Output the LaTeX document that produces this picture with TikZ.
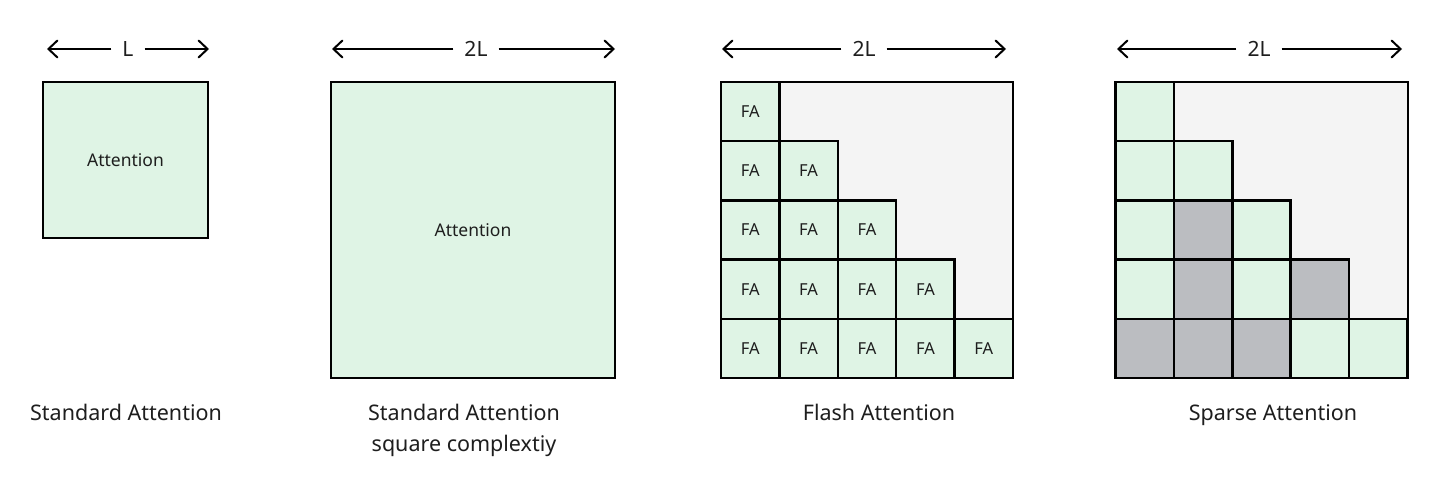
\documentclass[tikz,border=0pt]{standalone}
\usepackage{fontspec}
\setmainfont{Noto Sans}
\usetikzlibrary{arrows.meta}
\definecolor{attgreen}{HTML}{DFF4E5}
\definecolor{skipgray}{HTML}{BBBDC1}
\definecolor{bggray}{HTML}{F4F4F4}
\definecolor{ink}{HTML}{1E1E1E}
\begin{document}
\begin{tikzpicture}[x=1pt,y=-1pt,
  bigbox/.style={draw=black,line width=2pt,fill=attgreen,inner sep=0pt,outer sep=0pt,
    text=ink,font=\fontsize{17.5}{20}\selectfont},
  maskbox/.style={draw=black,line width=2pt,fill=bggray,inner sep=0pt,outer sep=0pt,
    minimum width=292pt,minimum height=296pt},
  cell/.style={draw=black,line width=2.5pt,fill=attgreen,inner sep=0pt,outer sep=0pt,
    minimum width=58.4pt,minimum height=59.2pt,text=ink,font=\fontsize{16.5}{19}\selectfont},
  skipcell/.style={cell,fill=skipgray},
  dimlabel/.style={inner xsep=11pt,inner ysep=2pt,text=ink,font=\fontsize{21}{24}\selectfont},
  dimarrow/.style={line width=2pt,-{Straight Barb[length=9pt,width=17pt,line cap=round]}},
  caption/.style={align=center,text=ink,font=\fontsize{21.5}{31}\selectfont}]
\useasboundingbox[fill=white] (0,0) rectangle (1440,489);

% ---- Panel 1: Standard Attention
\node[bigbox,minimum width=165pt,minimum height=156pt] (b1) at (125.5,160) {Attention};
\node[dimlabel] (d1) at (128,49) {L};
\coordinate (d1l) at (47,49);
\coordinate (d1r) at (209,49);
\draw[dimarrow] (d1.west) -- (d1l);
\draw[dimarrow] (d1.east) -- (d1r);
\node[caption,anchor=base] (t1) at (126,420) {Standard Attention};

% ---- Panel 2: Standard Attention, square complexity
\node[bigbox,minimum width=284pt,minimum height=296pt] (b2) at (473,230) {Attention};
\node[dimlabel] (d2) at (476,49) {2L};
\coordinate (d2l) at (332,49);
\coordinate (d2r) at (615,49);
\draw[dimarrow] (d2.west) -- (d2l);
\draw[dimarrow] (d2.east) -- (d2r);
\node[caption] (t2) at (464,430) {Standard Attention\\square complextiy};

% ---- Panel 3: Flash Attention
\node[maskbox] (b3) at (867,230) {};
\node[dimlabel] (d3) at (864,49) {2L};
\coordinate (d3l) at (722,49);
\coordinate (d3r) at (1006,49);
\draw[dimarrow] (d3.west) -- (d3l);
\draw[dimarrow] (d3.east) -- (d3r);
\foreach \i in {0,...,4}{
  \foreach \j in {0,...,\i}{
    \node[cell] (f-\i-\j) at ({721+58.4*(\j+0.5)},{82+59.2*(\i+0.5)}) {FA};
  }
}
\node[caption,anchor=base] (t3) at (879,420) {Flash Attention};

% ---- Panel 4: Sparse Attention
\node[maskbox] (b4) at (1261.5,230) {};
\node[dimlabel] (d4) at (1259,49) {2L};
\coordinate (d4l) at (1117,49);
\coordinate (d4r) at (1402,49);
\draw[dimarrow] (d4.west) -- (d4l);
\draw[dimarrow] (d4.east) -- (d4r);
\foreach \i/\j/\s in {0/0/cell,
  1/0/cell,1/1/cell,
  2/0/cell,2/1/skipcell,2/2/cell,
  3/0/cell,3/1/skipcell,3/2/cell,3/3/skipcell,
  4/0/skipcell,4/1/skipcell,4/2/skipcell,4/3/cell,4/4/cell}{
    \node[\s] (s-\i-\j) at ({1115.5+58.4*(\j+0.5)},{82+59.2*(\i+0.5)}) {};
}
\node[caption,anchor=base] (t4) at (1273,420) {Sparse Attention};
\end{tikzpicture}
\end{document}
